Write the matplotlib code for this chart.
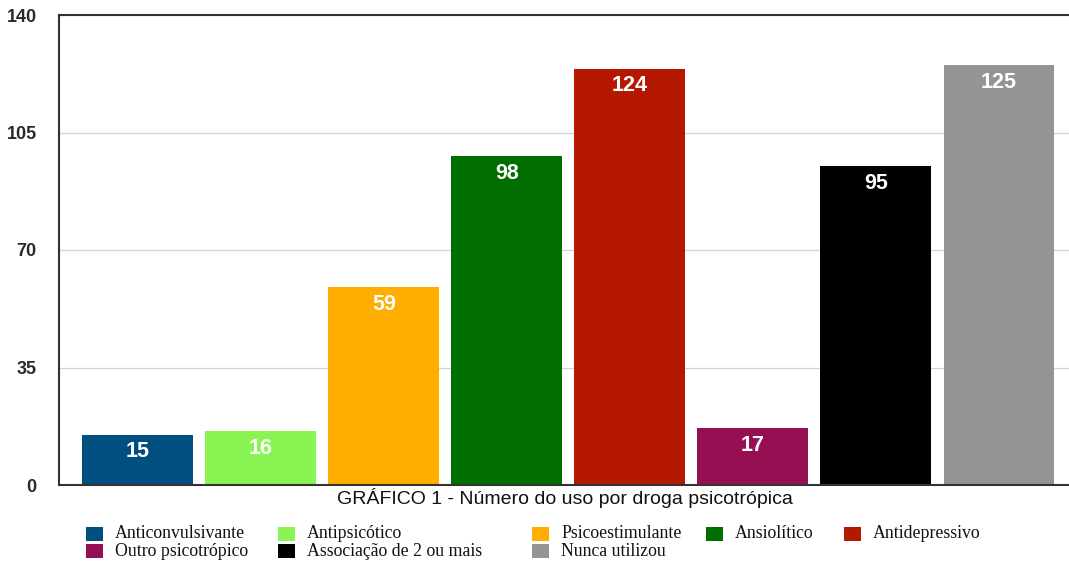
import matplotlib
matplotlib.use("Agg")
import matplotlib.pyplot as plt
from matplotlib.patches import Rectangle

categories = ["Anticonvulsivante", "Antipsicótico", "Psicoestimulante", "Ansiolítico",
              "Antidepressivo", "Outro psicotrópico", "Associação de 2 ou mais", "Nunca utilizou"]
values = [15, 16, 59, 98, 124, 17, 95, 125]
colors = ["#014f80", "#8af552", "#ffae00", "#006e00", "#b41800", "#960f52", "#000000", "#949494"]
yticks = [0, 35, 70, 105, 140]
title = "GRÁFICO 1 - Número do uso por droga psicotrópica"

W, H = 1069, 563
fig = plt.figure(figsize=(W/100, H/100), dpi=100)
ax = fig.add_axes([59/W, 1-485/H, 1-59/W, (485-15)/H])

x = list(range(len(values)))
bars = ax.bar(x, values, width=0.9, color=colors, zorder=3)
for xi, v in zip(x, values):
    ax.text(xi, v - 2.0, str(v), ha="center", va="top", color="white",
            fontsize=15.5, fontweight="bold", family="Liberation Sans", zorder=4)

ax.set_xlim(-0.64, 7.57)
ax.set_ylim(0, 140)
ax.set_yticks(yticks)
ax.set_yticklabels([str(t) for t in yticks], fontsize=13, fontweight="bold",
                   family="Liberation Sans", color="#2a2a2a")
ax.set_xticks([])
ax.tick_params(axis="y", length=0, pad=16)
ax.grid(axis="y", color="#d4d4d4", linewidth=0.9, zorder=0)
for s in ["left", "bottom", "top"]:
    ax.spines[s].set_color("#333333")
    ax.spines[s].set_linewidth(1.5)
ax.spines["right"].set_visible(False)
ax.spines["left"].set_zorder(5)
ax.spines["bottom"].set_zorder(5)

fig.text(565/W, 1-498/H, title, ha="center", va="center", fontsize=14,
         family="Liberation Sans", color="#111111")

# legend: two rows, fixed column positions (pixels)
col_x = [86, 278, 532, 706, 844]
row_y = [534, 551]
for i, (lab, col) in enumerate(zip(categories, colors)):
    r, c = divmod(i, 5)
    px, py = col_x[c], row_y[r]
    fig.add_artist(Rectangle((px/W, 1-(py+7)/H), 17/W, 14/H, transform=fig.transFigure,
                             facecolor=col, edgecolor="none"))
    fig.text((px+29)/W, 1-py/H, lab, ha="left", va="center", fontsize=12.8,
             family="Liberation Serif", color="#111111")

fig.savefig("out.png", dpi=100)
